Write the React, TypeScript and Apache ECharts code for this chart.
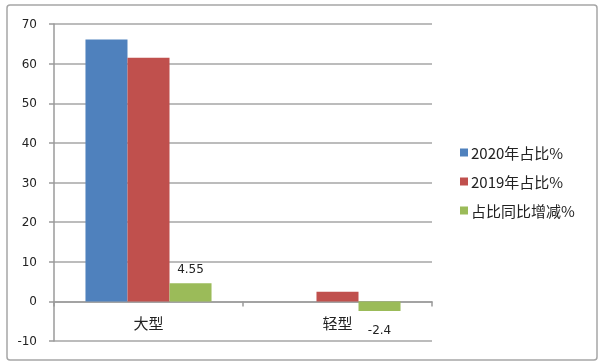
import React, { useEffect, useRef } from "react";
import * as echarts from "echarts";

const categories = ["大型", "轻型"];
const seriesNames = ["2020年占比%", "2019年占比%", "占比同比增减%"];
const share2020 = [66.1, 0];
const share2019 = [61.5, 2.4];
const shareChange = [4.55, -2.4];
const yTicks = { min: -10, max: 70, interval: 10 };

const colors = ["#4F81BD", "#C0504D", "#9BBB59"];
const font = "'Noto Sans CJK SC', 'DejaVu Sans', sans-serif";
const numFont = "'DejaVu Sans', sans-serif";

export default function App() {
  const ref = useRef<HTMLDivElement>(null);
  useEffect(() => {
    if (!ref.current) return;
    const chart = echarts.init(ref.current, undefined, { renderer: "svg" });
    chart.setOption({
      animation: false,
      textStyle: { fontFamily: font },
      graphic: [
        {
          type: "rect",
          shape: { x: 7, y: 5, width: 590, height: 355, r: 3 },
          style: { fill: "none", stroke: "#a6a6a6", lineWidth: 1.5 },
          silent: true,
        },
      ],
      legend: {
        orient: "vertical",
        left: 455,
        top: 140,
        itemWidth: 8,
        itemHeight: 8,
        itemGap: 14,
        icon: "rect",
        textStyle: { fontSize: 15, color: "#222", fontFamily: font, padding: [0, 0, 0, -2] },
        data: seriesNames,
      },
      grid: { left: 54, right: 168, top: 24, bottom: 22, outerBoundsMode: "none", containLabel: false },
      xAxis: {
        type: "category",
        data: categories,
        axisLine: { onZero: true, lineStyle: { color: "#9a9a9a", width: 1.5 } },
        axisTick: { show: true, length: 5, lineStyle: { color: "#9a9a9a", width: 1.5 } },
        axisLabel: { fontSize: 15, color: "#222", margin: -26, fontFamily: font },
      },
      yAxis: {
        type: "value",
        min: yTicks.min,
        max: yTicks.max,
        interval: yTicks.interval,
        axisLine: { show: true, lineStyle: { color: "#9a9a9a", width: 1.5 } },
        axisTick: { show: true, length: 5, lineStyle: { color: "#9a9a9a", width: 1.5 } },
        axisLabel: { fontSize: 12, color: "#222", margin: 17, fontFamily: numFont },
        splitLine: { lineStyle: { color: "#a6a6a6", width: 1.5 } },
      },
      series: [
        {
          name: seriesNames[0],
          type: "bar",
          data: share2020,
          barGap: "0%",
          barCategoryGap: "33.3%",
          itemStyle: { color: colors[0] },
        },
        {
          name: seriesNames[1],
          type: "bar",
          data: share2019,
          barGap: "0%",
          barCategoryGap: "33.3%",
          itemStyle: { color: colors[1] },
        },
        {
          name: seriesNames[2],
          type: "bar",
          data: shareChange.map((v) =>
            v < 0 ? { value: v, label: { position: "bottom", distance: 13 } } : v
          ),
          barGap: "0%",
          barCategoryGap: "33.3%",
          itemStyle: { color: colors[2] },
          label: {
            show: true,
            position: "top",
            distance: 8,
            fontSize: 12,
            color: "#222",
            fontFamily: numFont,
          },
        },
      ],
    });
    return () => chart.dispose();
  }, []);
  return (
    <div
      ref={ref}
      style={{ position: "fixed", left: 0, top: 0, width: 600, height: 363 }}
    />
  );
}
